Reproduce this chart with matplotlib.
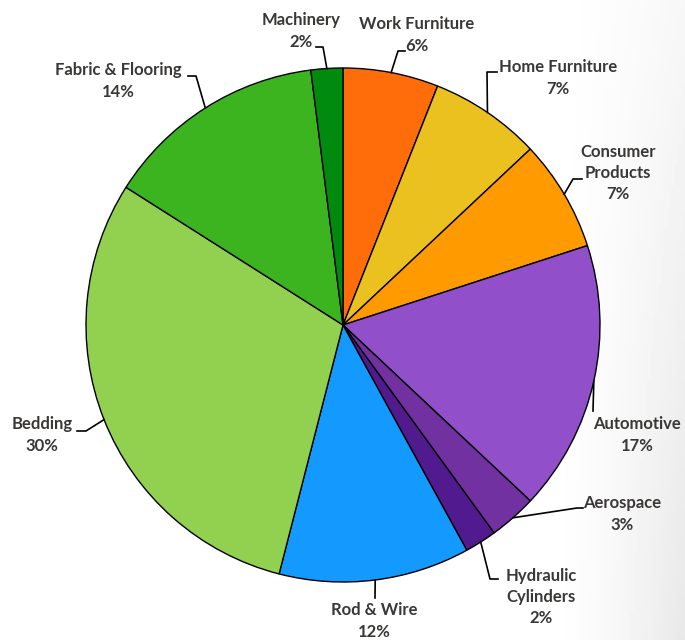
import numpy as np
import matplotlib.pyplot as plt

# segment shares, clockwise from 12 o'clock
sectors = ['Work Furniture', 'Home Furniture', 'Consumer Products', 'Automotive',
           'Aerospace', 'Hydraulic Cylinders', 'Rod & Wire', 'Bedding',
           'Fabric & Flooring', 'Machinery']
shares = [6, 7, 7, 17, 3, 2, 12, 30, 14, 2]
label_text = ['Work Furniture', 'Home Furniture', 'Consumer\nProducts', 'Automotive',
              'Aerospace', 'Hydraulic\nCylinders', 'Rod & Wire', 'Bedding',
              'Fabric & Flooring', 'Machinery']
colors = ['#FF6D0A', '#EBC11F', '#FF9B00', '#914FC9', '#7131A1',
          '#521A8F', '#1499FF', '#92D050', '#3CB420', '#008A0E']

W, H = 685, 640
CX, CY, R = 343, 325, 257


def px(x, y):
    # pixel position -> data coords (pie centre at origin, radius 1)
    return (x - CX) / R, (CY - y) / R


# label block centres and leader elbows, in pixels
text_pos = [(417, 35), (558, 78), (618, 173), (637, 435), (622, 514),
            (541, 597), (374, 621), (42, 435), (118, 81), (301, 31)]
elbows = [[(398, 51), (405, 51)], [(487, 72), (497, 72)], [(573, 179), (582, 179)],
          [(593, 411)], [(577, 508), (583, 508)], [(490, 579), (498, 579)],
          [(375, 598)], [(86, 431), (77, 431)], [(196, 76), (188, 76)],
          [(323, 47), (316, 47)]]

plt.rcParams['font.family'] = ['Lato', 'DejaVu Sans']

fig = plt.figure(figsize=(W / 100, H / 100), dpi=100)
ax = fig.add_axes([0, 0, 1, 1])

# faint grey shading toward the right/bottom-right corner
gx, gy = np.meshgrid(np.linspace(0, 1, 200), np.linspace(0, 1, 200))
shade = np.clip((gx - 0.8) / 0.2, 0, 1) ** 1.5 * (0.35 + 0.65 * gy)
ax.imshow(1 - 0.09 * shade, cmap='gray', vmin=0, vmax=1,
          extent=[-CX / R, (W - CX) / R, -(H - CY) / R, CY / R],
          origin='upper', zorder=0, aspect='auto')

wedges, _ = ax.pie(shares, colors=colors, startangle=90, counterclock=False,
                   radius=1, center=(0, 0),
                   wedgeprops=dict(edgecolor='black', linewidth=1.0))
for w in wedges:
    w.set_zorder(2)

total = sum(shares)
cum = np.cumsum([0] + shares)
for i, name in enumerate(sectors):
    mid = np.deg2rad(90 - (cum[i] + shares[i] / 2) / total * 360)
    pts = [(np.cos(mid), np.sin(mid))] + [px(*p) for p in elbows[i]]
    xs, ys = zip(*pts)
    ax.plot(xs, ys, color='black', lw=1.2, zorder=3)
    tx, ty = px(*text_pos[i])
    ax.text(tx, ty, f'{label_text[i]}\n{shares[i]}%', ha='center', va='center',
            fontsize=12, fontweight='bold', color='#3A3836', linespacing=1.4,
            zorder=4)

ax.set_xlim(-CX / R, (W - CX) / R)
ax.set_ylim(-(H - CY) / R, CY / R)
ax.set_aspect('equal')
ax.axis('off')

fig.savefig('out.png', dpi=100)
